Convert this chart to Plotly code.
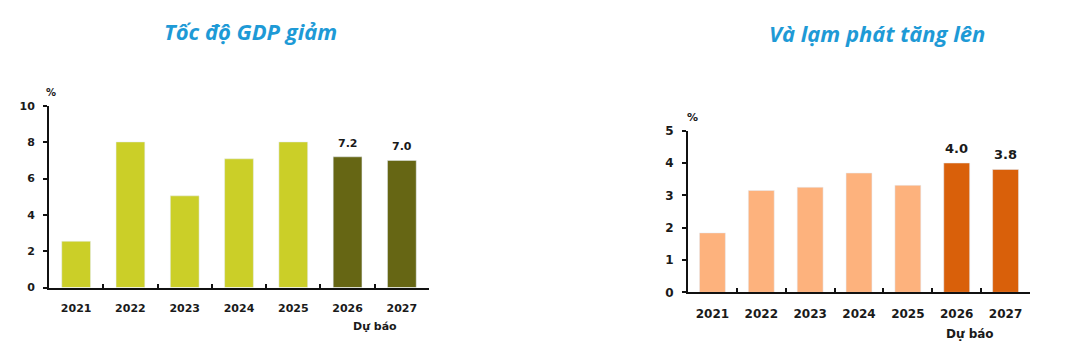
import plotly.graph_objects as go

years = ["2021", "2022", "2023", "2024", "2025", "2026", "2027"]
gdp = [2.55, 8.02, 5.05, 7.09, 8.02, 7.2, 7.0]
gdp_labels = ["", "", "", "", "", "7.2", "7.0"]
gdp_colors = ["#CBCF28"] * 5 + ["#666614"] * 2
cpi = [1.84, 3.15, 3.25, 3.69, 3.31, 4.0, 3.8]
cpi_labels = ["", "", "", "", "", "4.0", "3.8"]
cpi_colors = ["#FDB27D"] * 5 + ["#D9600A"] * 2
title_left = "Tốc độ GDP giảm"
title_right = "Và lạm phát tăng lên"
forecast_label = "Dự báo"
unit = "%"

TICKFONT = "DejaVu Sans"
BLUE = "#1E9AD6"
INK = "#1a1a1a"

fig = go.Figure()
fig.add_trace(go.Bar(x=years, y=gdp, marker_color=gdp_colors,
                     xaxis="x", yaxis="y", showlegend=False, hoverinfo="skip"))
fig.add_trace(go.Bar(x=years, y=cpi, marker_color=cpi_colors,
                     xaxis="x2", yaxis="y2", showlegend=False, hoverinfo="skip"))

common_x = dict(type="category", range=[-0.5, len(years) - 0.5], showline=True,
                linecolor="#111", linewidth=2,
                ticks="inside", tickson="boundaries", tickcolor="#111", tickwidth=1.5,
                ticklen=4, showgrid=False, zeroline=False)
common_y = dict(showline=True, linecolor="#111", linewidth=2, ticks="outside",
                tickcolor="#111", tickwidth=1.5, ticklen=4, showgrid=False, zeroline=False)

fig.update_layout(
    width=1080, height=358,
    margin=dict(l=0, r=0, t=0, b=0),
    paper_bgcolor="white", plot_bgcolor="white",
    bargap=0.47,
    xaxis=dict(domain=[49/1080, 429/1080], anchor="y",
               tickfont=dict(family=TICKFONT, size=11, color=INK, weight="bold"),
               ticklabelstandoff=9, **common_x),
    yaxis=dict(domain=[1-292/358, 1-103/358], anchor="x", range=[0, 10], dtick=2,
               tickfont=dict(family=TICKFONT, size=11, color=INK, weight="bold"),
               ticklabelstandoff=6, **common_y),
    xaxis2=dict(domain=[688/1080, 1030/1080], anchor="y2",
                tickfont=dict(family=TICKFONT, size=12, color=INK, weight="bold"),
                ticklabelstandoff=9, **common_x),
    yaxis2=dict(domain=[1-297/358, 1-128.7/358], anchor="x2", range=[0, 5], dtick=1,
                tickfont=dict(family=TICKFONT, size=12, color=INK, weight="bold"),
                ticklabelstandoff=6, **common_y),
)

annos = [
    dict(text=title_left, x=250/1080, y=1-25/358, xref="paper", yref="paper",
         font=dict(family="Open Sans", size=22, color=BLUE, weight="bold", style="italic")),
    dict(text=title_right, x=877/1080, y=1-27/358, xref="paper", yref="paper",
         font=dict(family="Open Sans", size=22, color=BLUE, weight="bold", style="italic")),
    dict(text=unit, x=51/1080, y=1-89/358, xref="paper", yref="paper",
         font=dict(family=TICKFONT, size=10, color=INK, weight="bold")),
    dict(text=unit, x=692/1080, y=1-115/358, xref="paper", yref="paper",
         font=dict(family=TICKFONT, size=11, color=INK, weight="bold")),
    dict(text=forecast_label, x=5.5, xref="x", y=1-332/358, yref="paper",
         font=dict(family=TICKFONT, size=11, color=INK, weight="bold")),
    dict(text=forecast_label, x=5.27, xref="x2", y=1-340/358, yref="paper",
         font=dict(family=TICKFONT, size=12, color=INK, weight="bold")),
]
for a in annos:
    a.update(showarrow=False, xanchor="center", yanchor="middle")

for i, (v, lab) in enumerate(zip(gdp, gdp_labels)):
    if lab:
        annos.append(dict(text=lab, x=i, y=v, xref="x", yref="y", yanchor="bottom",
                          xanchor="center", showarrow=False, yshift=5,
                          font=dict(family=TICKFONT, size=11, color=INK, weight="bold")))
for i, (v, lab) in enumerate(zip(cpi, cpi_labels)):
    if lab:
        annos.append(dict(text=lab, x=i, y=v, xref="x2", yref="y2", yanchor="bottom",
                          xanchor="center", showarrow=False, yshift=5,
                          font=dict(family=TICKFONT, size=13, color=INK, weight="bold")))
fig.update_layout(annotations=annos)

post = (
    "document.documentElement.style.margin='0';"
    "document.documentElement.style.overflow='hidden';"
    "document.body.style.margin='0';"
    "document.body.style.overflow='hidden';"
    "var gd=document.getElementById('{plot_id}');"
    "gd.style.position='fixed';gd.style.top='0px';gd.style.left='0px';"
)
fig.write_html("out.html", config={"displayModeBar": False}, post_script=post)
